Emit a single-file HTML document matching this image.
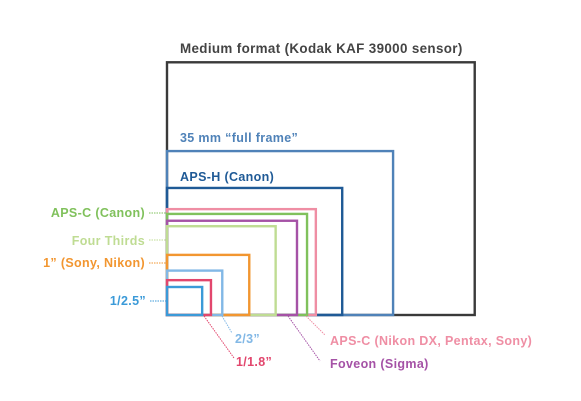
<!DOCTYPE html>
<html><head><meta charset="utf-8"><style>
html,body{margin:0;padding:0;background:#fff;}
svg{display:block;font-family:"Liberation Sans",sans-serif;font-weight:bold;}
</style></head><body>
<svg id="chart" width="581" height="401" viewBox="0 0 581 401">
<g id="rects"></g>
<g id="labels"></g>
</svg>
<script>
const sensorNames = ["Medium format (Kodak KAF 39000 sensor)","35 mm \u201cfull frame\u201d","APS-H (Canon)","APS-C (Nikon DX, Pentax, Sony)","APS-C (Canon)","Foveon (Sigma)","Four Thirds","1\u201d (Sony, Nikon)","2/3\u201d","1/1.8\u201d","1/2.5\u201d"];
const sensorWidths = [49, 36, 27.9, 23.7, 22.3, 20.7, 17.3, 13.1, 8.8, 7.0, 5.6];
const sensorHeights = [37, 24, 18.6, 15.5, 14.8, 13.8, 13.0, 8.8, 6.5, 5.1, 4.1];
const sensorColors = ["#3a3a3a","#4f82b8","#1f5a96","#ef8ea4","#80c15c","#a552a6","#bfdc93","#f29630","#82b8e6","#e2466d","#3b9ad8"];
const ox=167, oy=315, kx=6.28, ky=6.83;
const X=v=>ox+v*kx, Y=v=>oy-v*ky;
const NS="http://www.w3.org/2000/svg";
const rg=document.getElementById('rects'), lg=document.getElementById('labels');
sensorWidths.forEach((w,i)=>{
  const r=document.createElementNS(NS,'rect');
  r.setAttribute('x',ox);r.setAttribute('y',Y(sensorHeights[i]));
  r.setAttribute('width',X(w)-ox);r.setAttribute('height',oy-Y(sensorHeights[i]));
  r.setAttribute('fill','none');r.setAttribute('stroke',sensorColors[i]);r.setAttribute('stroke-width','2.4');
  
  
  rg.appendChild(r);
});
const lay=[
 [0,180,53,'start',null],
 [1,180,142,'start',null],
 [2,180,181,'start',null],
 [4,145,217,'end',[149,213,167,213]],
 [6,145,245,'end',[149,240,167,240]],
 [7,145,267,'end',[149,263,167,263]],
 [10,146,305,'end',[150,301,167,301]],
 [8,235,343,'start',[222,316,232,333]],
 [9,236,366,'start',[204,316,234,358]],
 [3,330,345,'start',[306,316,325,335]],
 [5,330,368,'start',[288,316,320,361]]
];
lay.forEach(([i,x,y,a,l])=>{
  if(l){const ln=document.createElementNS(NS,'line');
    ln.setAttribute('x1',l[0]);ln.setAttribute('y1',l[1]);ln.setAttribute('x2',l[2]);ln.setAttribute('y2',l[3]);
    ln.setAttribute('stroke',sensorColors[i]);ln.setAttribute('stroke-width','1');ln.setAttribute('stroke-dasharray','1.5 1');
    
    
    lg.appendChild(ln);}
  const t=document.createElementNS(NS,'text');
  t.setAttribute('x',x);t.setAttribute('y',y);t.setAttribute('text-anchor',a);
  t.setAttribute('fill',i===0?'#444':sensorColors[i]);t.setAttribute('font-size',i===0?'13.4':'12.5');
  t.setAttribute('letter-spacing','0.35');
  t.textContent=sensorNames[i];
  
  
  lg.appendChild(t);
});
</script>
</body></html>
